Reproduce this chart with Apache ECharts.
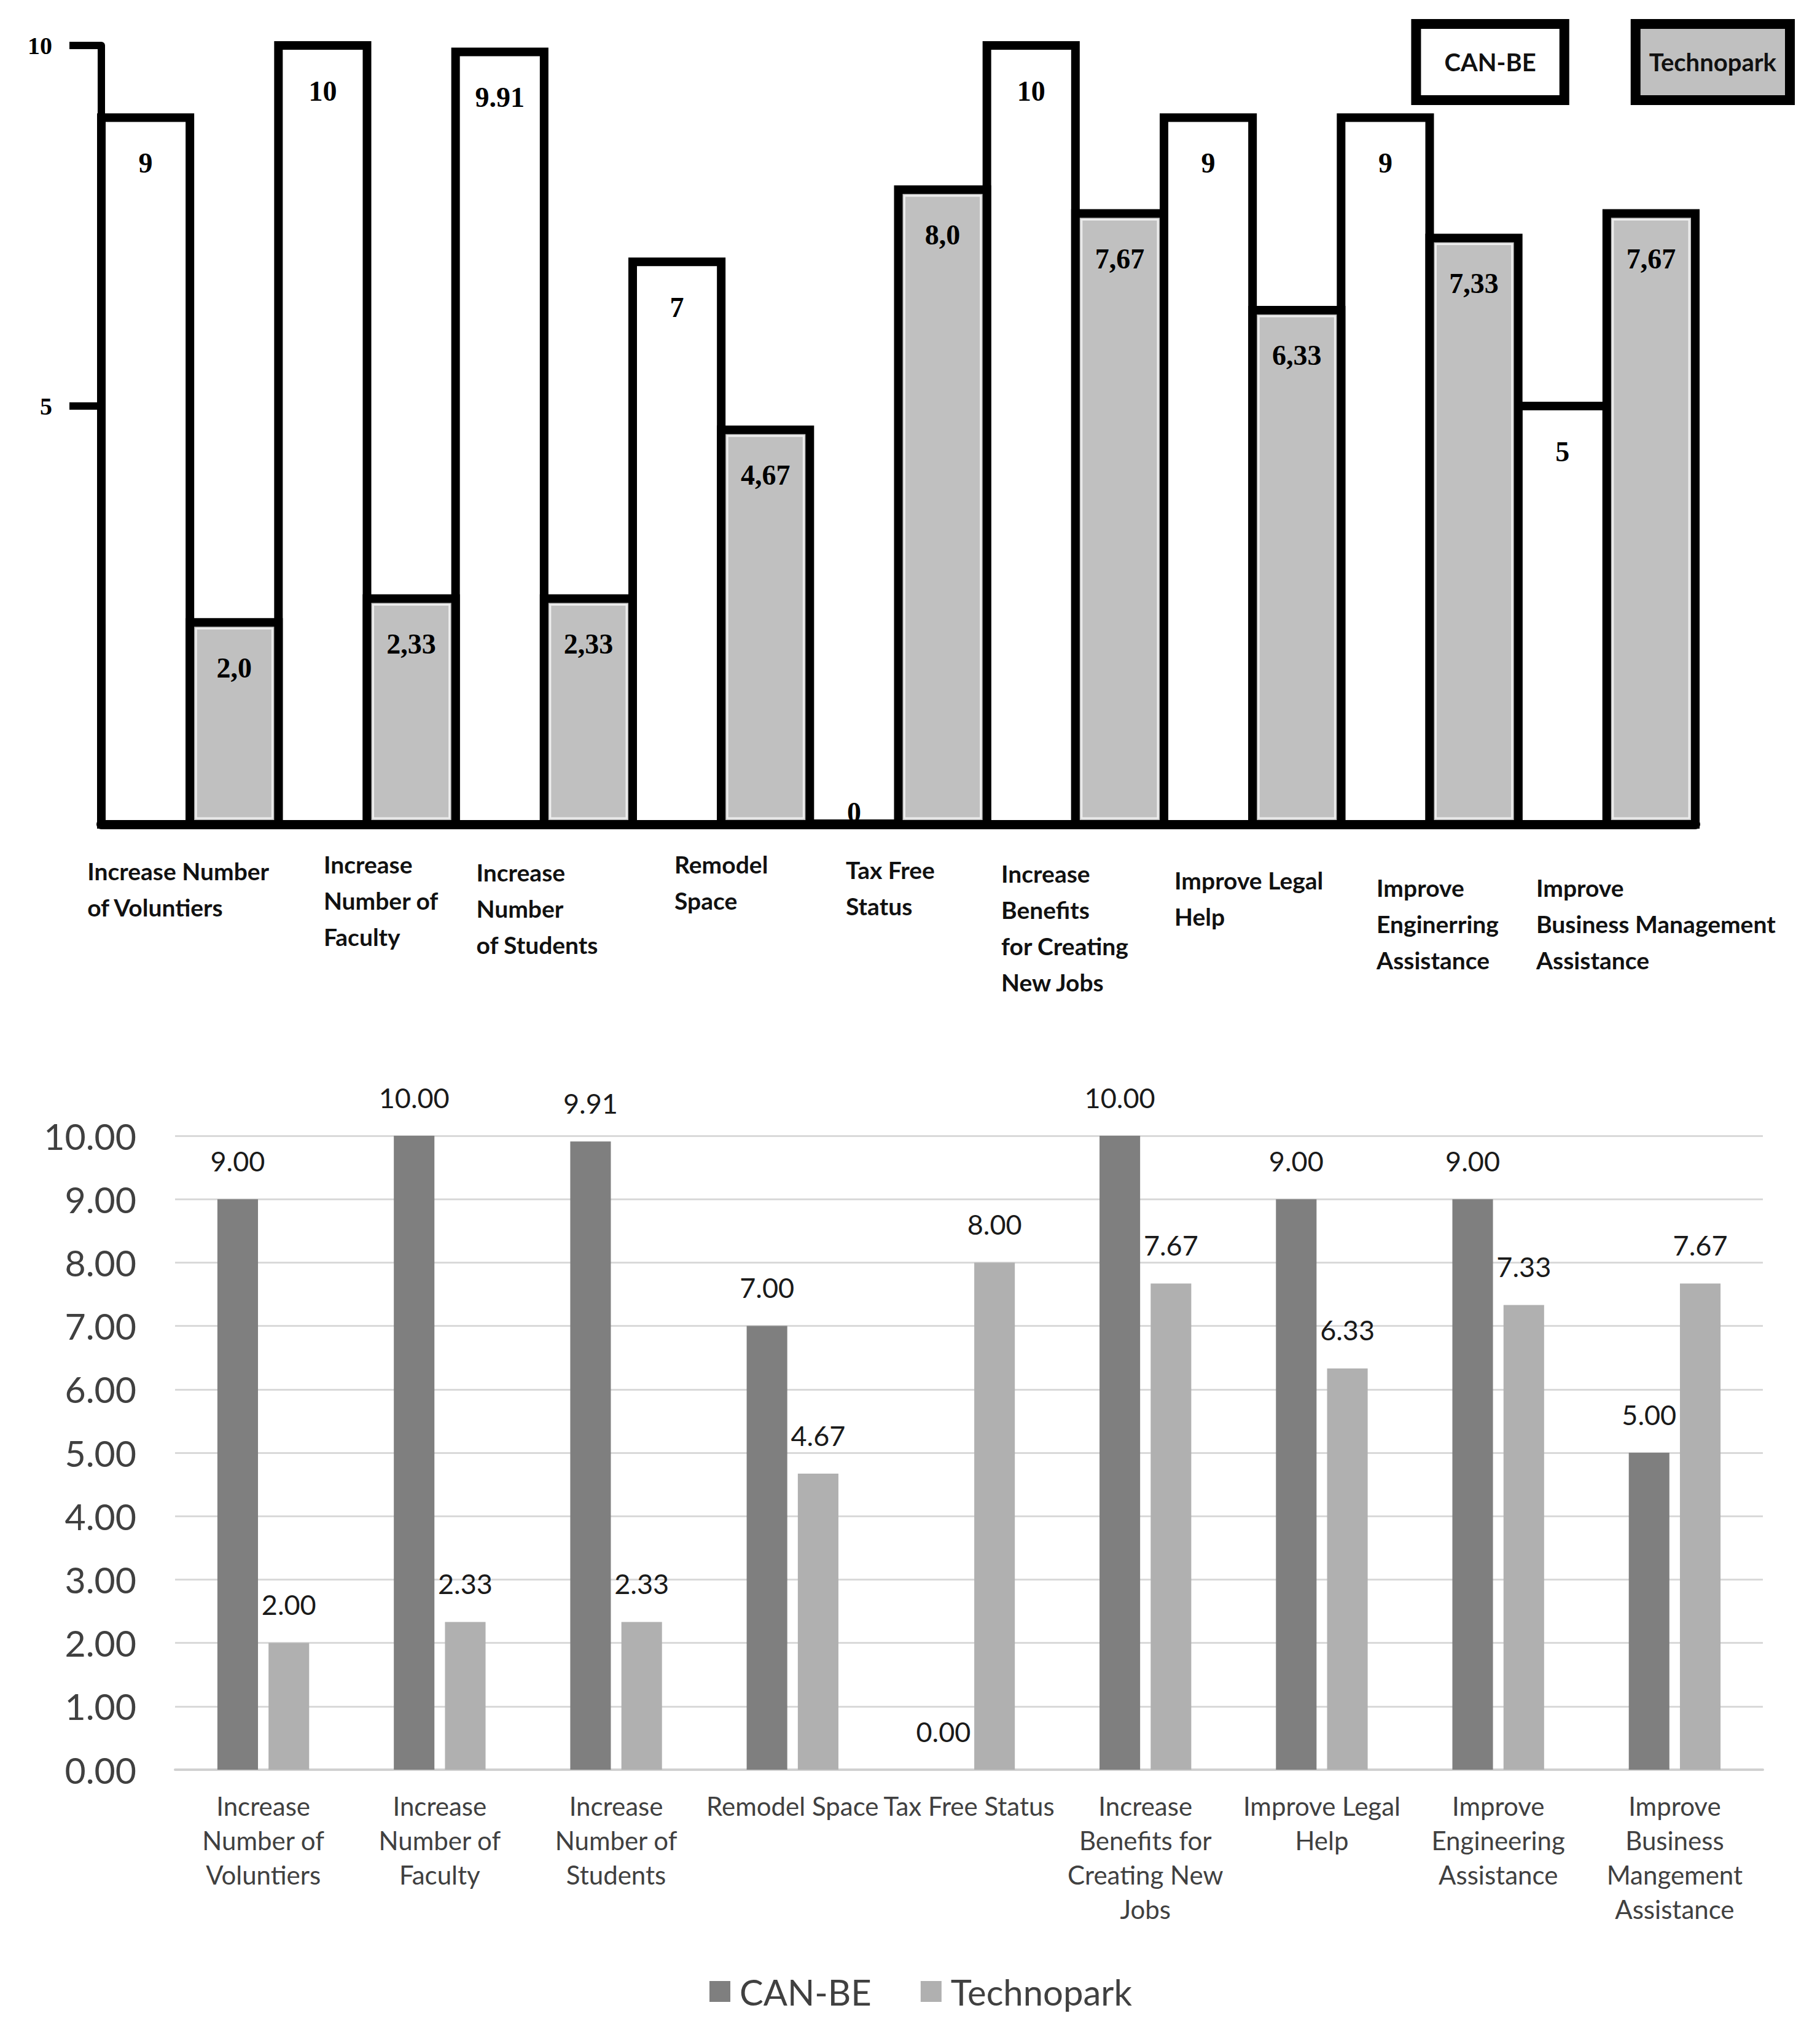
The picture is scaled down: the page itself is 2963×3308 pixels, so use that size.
<!DOCTYPE html>
<html>
<head>
<meta charset="utf-8">
<script src="https://cdn.jsdelivr.net/npm/echarts@6/dist/echarts.min.js"></script>
<style>
html,body{margin:0;padding:0;background:#fff;}
#top{width:2963px;height:1660px;}
#bottom{width:2963px;height:1648px;}
</style>
</head>
<body>
<div id="top"></div>
<div id="bottom"></div>
<script>
// ---- data ----
const categories = [
  "Increase Number of Voluntiers",
  "Increase Number of Faculty",
  "Increase Number of Students",
  "Remodel Space",
  "Tax Free Status",
  "Increase Benefits for Creating New Jobs",
  "Improve Legal Help",
  "Improve Engineering Assistance",
  "Improve Business Management Assistance"
];
const topLabels = [
  "Increase Number\nof Voluntiers",
  "Increase\nNumber of\nFaculty",
  "Increase\nNumber\nof Students",
  "Remodel\nSpace",
  "Tax Free\nStatus",
  "Increase\nBenefits\nfor Creating\nNew Jobs",
  "Improve Legal\nHelp",
  "Improve\nEnginerring\nAssistance",
  "Improve\nBusiness Management\nAssistance"
];
const bottomLabels = [
  "Increase\nNumber of\nVoluntiers",
  "Increase\nNumber of\nFaculty",
  "Increase\nNumber of\nStudents",
  "Remodel Space",
  "Tax Free Status",
  "Increase\nBenefits for\nCreating New\nJobs",
  "Improve Legal\nHelp",
  "Improve\nEngineering\nAssistance",
  "Improve\nBusiness\nMangement\nAssistance"
];
const seriesNames = ["CAN-BE", "Technopark"];
const canBe = [9, 10, 9.91, 7, 0, 10, 9, 9, 5];
const technopark = [2, 2.33, 2.33, 4.67, 8, 7.67, 6.33, 7.33, 7.67];
const topTicks = [5, 10];

// ---- top chart (outlined, hand-drawn style) ----
const yMinTop = -0.8;
const fmtCan = v => String(v);
const fmtTech = v => (v % 1 === 0 ? v.toFixed(1) : v.toFixed(2)).replace('.', ',');

function topSeries(name, values, idx, fill, fmt) {
  return {
    type: 'custom',
    name: name,
    itemStyle: { color: fill },
    data: values.map((v, i) => [i, v]),
    encode: { x: 0, y: 1 },
    renderItem: function (params, api) {
      const cat = api.value(0), v = api.value(1);
      const top = api.coord([cat, v]);
      const base = api.coord([cat, yMinTop]);
      const band = api.size([1, 0])[0];
      const w = band / 2;
      const x0 = top[0] - band / 2 + idx * w;
      const children = [];
      if (v > 0) {
        children.push({
          type: 'rect',
          shape: { x: x0, y: top[1], width: w, height: base[1] - top[1] },
          style: { fill: fill, stroke: '#000', lineWidth: 14 }
        });
        if (idx === 1) {
          children.push({
            type: 'rect',
            shape: { x: x0 + 10, y: top[1] + 10, width: w - 20, height: base[1] - top[1] - 20 },
            style: { fill: 'none', stroke: '#ededed', lineWidth: 3 }
          });
        }
      }
      children.push({
        type: 'text',
        style: {
          text: fmt(v), x: x0 + w / 2, y: top[1] + 74,
          align: 'center', verticalAlign: 'middle',
          fontFamily: 'Liberation Serif', fontWeight: 'bold', fontSize: 46, fill: '#000'
        }
      });
      return { type: 'group', children: children };
    }
  };
}

// per-label nudges of the hand-placed category labels (style only)
const topRich = { a: { align: 'left', fontFamily: 'Lato', fontWeight: 'bold', fontSize: 39, lineHeight: 59, color: '#111' } };
const lblDx = [-19, 23, -11, 0, -13, -17, -6, 13, 80];
const lblDy = [11, 0, 13, 0, 9, 15, 26, 38, 38];
lblDx.forEach((d, i) => {
  topRich['l' + i] = { align: 'left', width: Math.max(0, 2 * d), fontSize: 10, lineHeight: 59 };
  topRich['r' + i] = { align: 'left', width: Math.max(0, -2 * d), fontSize: 10, lineHeight: 59 };
  topRich['v' + i] = { align: 'left', fontSize: 4, height: Math.max(1, lblDy[i]), lineHeight: Math.max(1, lblDy[i]) };
});
function topLabelFormatter(val, i) {
  const dx = lblDx[i];
  const lines = topLabels[i].split('\n').map(l =>
    (dx > 0 ? '{l' + i + '| }' : '') + '{a|' + l + '}' + (dx < 0 ? '{r' + i + '| }' : ''));
  return (lblDy[i] > 0 ? '{v' + i + '| }\n' : '') + lines.join('\n');
}

const topChart = echarts.init(document.getElementById('top'), null, { renderer: 'svg' });
topChart.setOption({
  animation: false,
  legend: {
    top: 26, right: 36, itemGap: 100, itemWidth: 0, itemHeight: 0, icon: 'none', selectedMode: false,
    data: [
      { name: seriesNames[0], textStyle: { backgroundColor: '#fff', padding: [34, 38, 34, 38] } },
      { name: seriesNames[1], textStyle: { backgroundColor: '#c0c0c0', padding: [34, 14, 34, 14] } }
    ],
    textStyle: { fontFamily: 'Lato', fontWeight: 'bold', fontSize: 40, color: '#111', borderColor: '#000', borderWidth: 16 }
  },
  grid: { left: 165, right: 203, top: 74, bottom: 318 },
  xAxis: {
    type: 'category', data: categories,
    axisLine: { onZero: false, lineStyle: { color: '#000', width: 16 } },
    axisTick: { show: false },
    axisLabel: { interval: 0, margin: 35, formatter: topLabelFormatter, rich: topRich }
  },
  yAxis: {
    type: 'value', min: yMinTop, max: 10,
    splitLine: { show: false },
    axisLine: { show: true, lineStyle: { color: '#000', width: 12 } },
    axisTick: { show: true, customValues: topTicks, length: 52, lineStyle: { color: '#000', width: 12 } },
    axisLabel: { customValues: topTicks, fontFamily: 'Liberation Serif', fontWeight: 'bold', fontSize: 40,
                 color: '#000', margin: 80, padding: [0, 0, 30, 0] }
  },
  series: [
    topSeries(seriesNames[0], canBe, 0, '#ffffff', fmtCan),
    topSeries(seriesNames[1], technopark, 1, '#c0c0c0', fmtTech)
  ]
});

// ---- bottom chart (Excel style) ----
const bottomChart = echarts.init(document.getElementById('bottom'), null, { renderer: 'svg' });
const dataLabel = {
  show: true, position: 'top', distance: 40,
  formatter: p => p.value.toFixed(2),
  fontFamily: 'Lato', fontSize: 45, color: '#1a1a1a'
};
bottomChart.setOption({
  animation: false,
  textStyle: { fontFamily: 'Lato' },
  legend: {
    left: 1150, top: 1548, itemWidth: 34, itemHeight: 34, itemGap: 80, icon: 'rect', selectedMode: false,
    data: seriesNames,
    textStyle: { fontFamily: 'Lato', fontSize: 58, color: '#404040', padding: [0, 0, 0, 10] }
  },
  grid: { left: 285, right: 93, top: 189, bottom: 427 },
  xAxis: {
    type: 'category', data: categories,
    axisTick: { show: false },
    axisLine: { lineStyle: { color: '#d0d0d0', width: 4 } },
    axisLabel: {
      interval: 0, margin: 31, fontFamily: 'Lato', fontSize: 42, lineHeight: 56, color: '#404040',
      formatter: (v, i) => bottomLabels[i]
    }
  },
  yAxis: {
    type: 'value', min: 0, max: 10, interval: 1,
    axisLine: { show: false }, axisTick: { show: false },
    splitLine: { lineStyle: { color: '#d9d9d9', width: 3 } },
    axisLabel: { formatter: v => v.toFixed(2), fontFamily: 'Lato', fontSize: 59, color: '#404040', margin: 63 }
  },
  series: [
    { name: seriesNames[0], type: 'bar', data: canBe, barGap: '26%', barCategoryGap: '48%',
      itemStyle: { color: '#7f7f7f' }, label: dataLabel },
    { name: seriesNames[1], type: 'bar', data: technopark, barGap: '26%', barCategoryGap: '48%',
      itemStyle: { color: '#b0b0b0' }, label: dataLabel }
  ]
});
</script>
</body>
</html>
